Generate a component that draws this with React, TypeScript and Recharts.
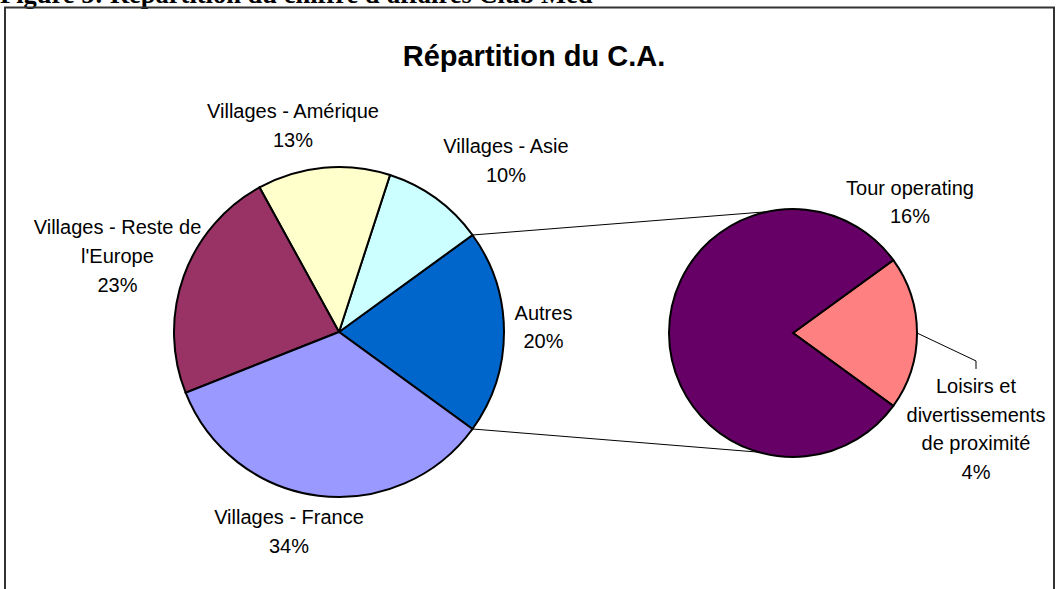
import { PieChart, Pie, Cell } from 'recharts'

const W = 1057
const H = 589

// chiffre d'affaires par activité (% du total)
const mainNames = ['Autres', 'Villages - Asie', 'Villages - Amérique', "Villages - Reste de\nl'Europe", 'Villages - France']
const mainValues = [20, 10, 13, 23, 34]
const mainColors = ['#0066CC', '#CCFFFF', '#FFFFCC', '#993366', '#9999FF']

// détail de "Autres"
const subNames = ['Loisirs et\ndivertissements\nde proximité', 'Tour operating']
const subValues = [4, 16]
const subColors = ['#FF8080', '#660066']

const mainData = mainNames.map((name, i) => ({ name, value: mainValues[i] }))
const subData = subNames.map((name, i) => ({ name, value: subValues[i] }))

// layout
const MAIN = { cx: 339, cy: 332, r: 165 }
const SUB = { cx: 793, cy: 333, r: 124 }
const FONT = '"Liberation Sans", Arial, sans-serif'
const LINE_H = 28.7

// label block centres, relative to each pie centre
const mainLabelPos = [[204.5, -5], [167, -171.5], [-46, -206.5], [-221.5, -76], [-50, 199.5]]
const subLabelPos = [[183, 96], [117, -131]]

const RADIAN = Math.PI / 180
const polar = (cx: number, cy: number, r: number, angle: number) => ({
  x: cx + r * Math.cos(-angle * RADIAN),
  y: cy + r * Math.sin(-angle * RADIAN),
})

function LabelText({ x, y, name, value }: { x: number; y: number; name: string; value: number }) {
  const lines = [...name.split('\n'), `${value}%`]
  const y0 = y + 7 - ((lines.length - 1) * LINE_H) / 2
  return (
    <text x={x} y={y0} textAnchor="middle" fontSize={20} fontFamily={FONT} fill="#000">
      {lines.map((l, i) => (
        <tspan key={i} x={x} y={y0 + i * LINE_H}>{l}</tspan>
      ))}
    </text>
  )
}

const renderMainLabel = (props: any) => {
  const { cx, cy, index, midAngle, percent, outerRadius } = props
  const [dx, dy] = mainLabelPos[index]
  const label = <LabelText x={cx + dx} y={cy + dy} name={mainNames[index]} value={mainValues[index]} />
  if (index !== 0) return label
  // lignes de liaison vers le camembert secondaire
  const half = percent * 180
  const p1 = polar(cx, cy, outerRadius, midAngle + half)
  const p2 = polar(cx, cy, outerRadius, midAngle - half)
  const q1 = polar(SUB.cx, SUB.cy, SUB.r, 102)
  const q2 = polar(SUB.cx, SUB.cy, SUB.r, 254)
  return (
    <g>
      <line x1={p1.x} y1={p1.y} x2={q1.x} y2={q1.y} stroke="#000" strokeWidth={1} />
      <line x1={p2.x} y1={p2.y} x2={q2.x} y2={q2.y} stroke="#000" strokeWidth={1} />
      {label}
    </g>
  )
}

const renderSubLabel = (props: any) => {
  const { cx, cy, index, midAngle, outerRadius } = props
  const [dx, dy] = subLabelPos[index]
  const lx = cx + dx
  const ly = cy + dy
  const label = <LabelText x={lx} y={ly} name={subNames[index]} value={subValues[index]} />
  if (index !== 0) return label
  const n = subNames[index].split('\n').length + 1
  const firstBase = ly + 7 - ((n - 1) * LINE_H) / 2
  const p = polar(cx, cy, outerRadius, midAngle)
  return (
    <g>
      <polyline
        points={`${p.x},${p.y} ${lx},${firstBase - 32} ${lx},${firstBase - 24}`}
        fill="none"
        stroke="#000"
        strokeWidth={1}
      />
      {label}
    </g>
  )
}

export default function App() {
  return (
    <div style={{ position: 'absolute', left: 0, top: 0, width: W, height: H, overflow: 'hidden', background: '#fff' }}>
      <svg width={W} height={H} style={{ position: 'absolute', left: 0, top: 0 }}>
        <text x={0} y={3} fontSize={26.5} fontWeight="bold" fontFamily='"Liberation Serif", "Times New Roman", serif' fill="#000">
          Figure 5: Répartition du chiffre d'affaires Club Med
        </text>
        <rect x={5} y={7.5} width={1049} height={620} fill="none" stroke="#333" strokeWidth={2} />
        <text x={534} y={66} textAnchor="middle" fontSize={29} fontWeight="bold" fontFamily={FONT} fill="#000">
          Répartition du C.A.
        </text>
      </svg>
      <div style={{ position: 'absolute', left: 0, top: 0 }}>
        <PieChart width={W} height={H} margin={{ top: 0, right: 0, bottom: 0, left: 0 }}>
          <Pie
            data={mainData}
            dataKey="value"
            nameKey="name"
            cx={MAIN.cx}
            cy={MAIN.cy}
            outerRadius={MAIN.r}
            startAngle={-36}
            endAngle={324}
            stroke="#000"
            strokeWidth={2}
            labelLine={false}
            label={renderMainLabel}
            isAnimationActive={false}
          >
            {mainData.map((entry, index) => (
              <Cell key={`main-${index}`} fill={mainColors[index]} stroke="#000" strokeWidth={2} />
            ))}
          </Pie>
          <Pie
            data={subData}
            dataKey="value"
            nameKey="name"
            cx={SUB.cx}
            cy={SUB.cy}
            outerRadius={SUB.r}
            startAngle={-36}
            endAngle={324}
            stroke="#000"
            strokeWidth={2}
            labelLine={false}
            label={renderSubLabel}
            isAnimationActive={false}
          >
            {subData.map((entry, index) => (
              <Cell key={`sub-${index}`} fill={subColors[index]} stroke="#000" strokeWidth={2} />
            ))}
          </Pie>
        </PieChart>
      </div>
    </div>
  )
}
